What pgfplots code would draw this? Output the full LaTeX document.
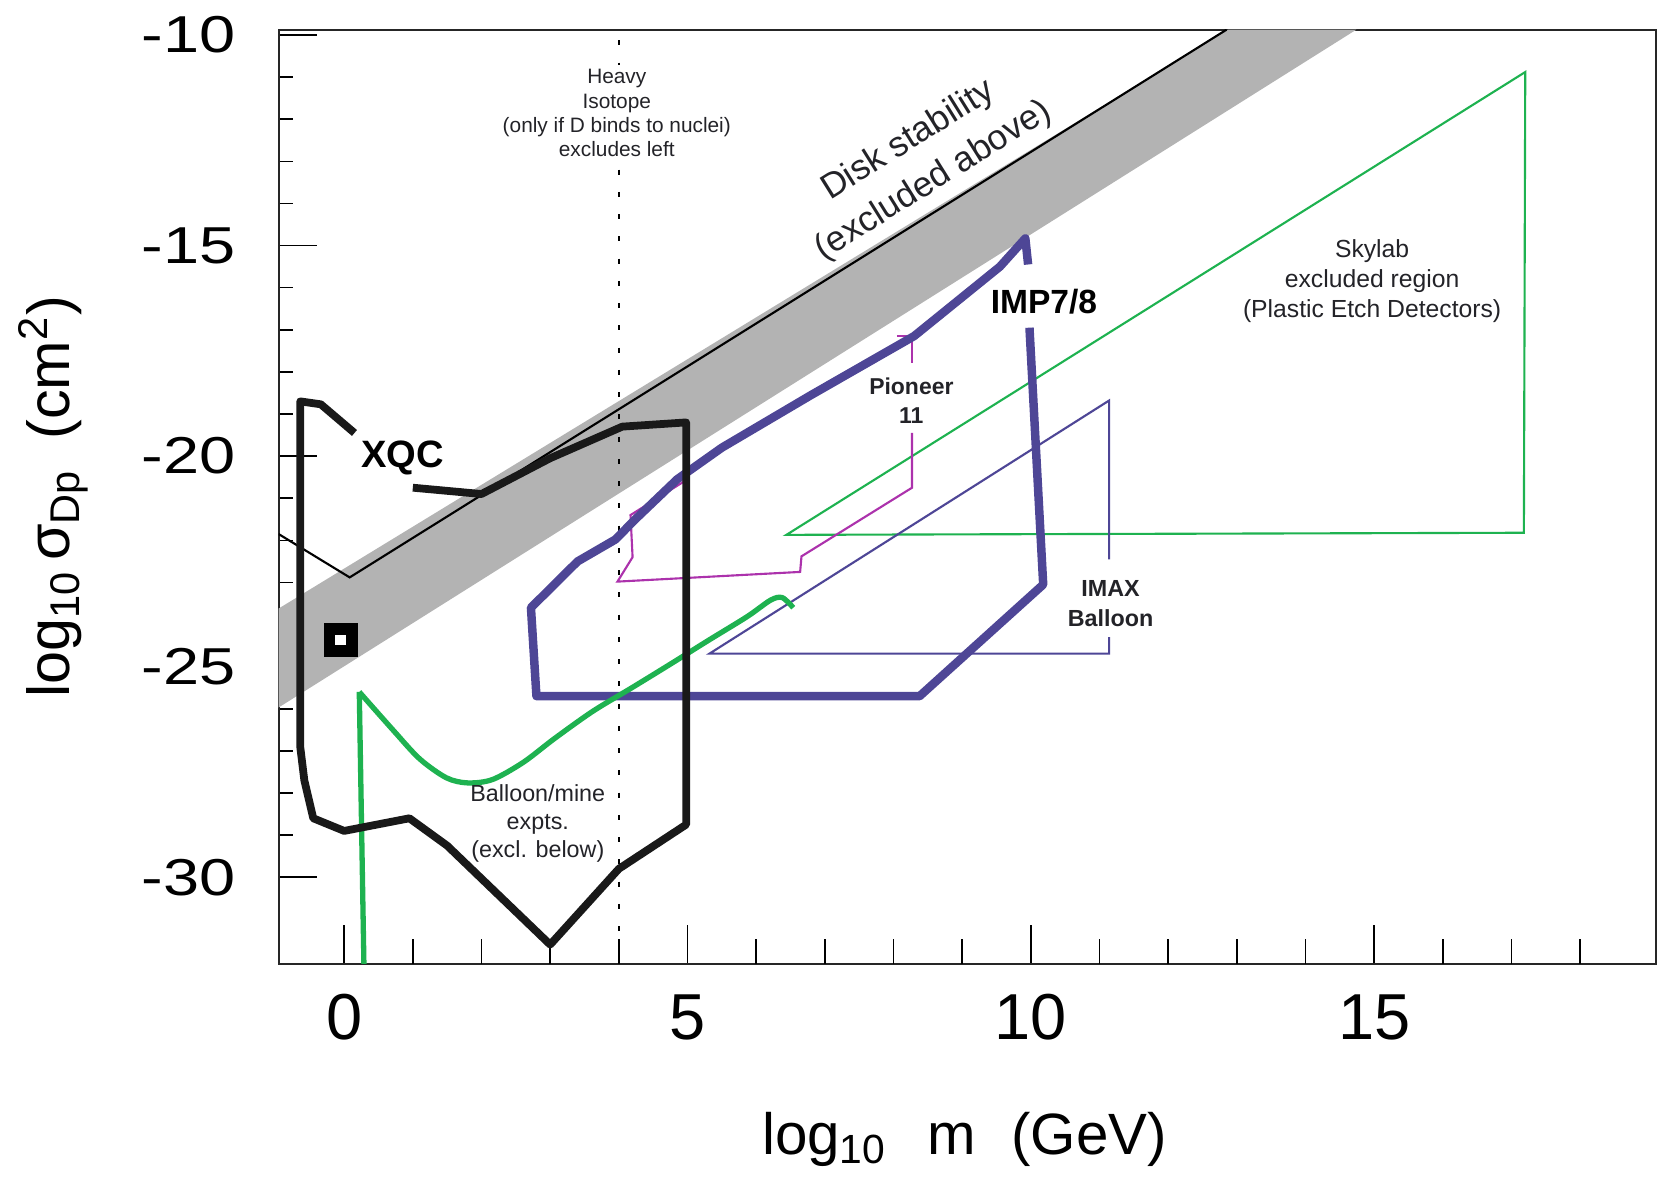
\documentclass[border=0pt]{standalone}
\usepackage{pgfplots}
\pgfplotsset{compat=1.18}
\usepackage{fontspec}
\setmainfont{Liberation Sans}
\usepackage{graphicx}

\definecolor{grn}{RGB}{30,178,80}
\definecolor{ind}{RGB}{78,70,150}
\definecolor{mag}{RGB}{172,50,172}
\definecolor{band}{RGB}{179,179,179}
\definecolor{txt}{RGB}{35,35,40}

\begin{document}
\begin{tikzpicture}
\begin{axis}[
  scale only axis, width=390pt, height=264.6pt,
  xmin=-0.955, xmax=19.1, ymin=-32.06, ymax=-9.874,
  axis line style={line width=0.6pt, black!85},
  xtick={0,5,10,15}, ytick={-30,-25,-20,-15,-10},
  extra x ticks={1,2,3,4,6,7,8,9,11,12,13,14,16,17,18},
  extra x tick labels={},
  extra x tick style={major tick length=7pt},
  minor y tick num=4,
  major tick length=11pt, minor tick length=4pt,
  tick align=inside, xtick pos=bottom, ytick pos=left,
  tick style={line width=0.45pt, black},
  /pgf/number format/assume math mode=true,
  xticklabel style={font=\fontsize{18.4}{20}\selectfont, anchor=north, inner sep=0pt, yshift=-8.4pt},
  yticklabel style={font=\fontsize{14.7}{16}\selectfont, anchor=east, inner sep=0pt, xshift=-12pt},
  yticklabel={\scalebox{1.25}[1]{\pgfmathprintnumber{\tick}}},
  xlabel={log\textsubscript{10}\hspace{0.7em}m\hspace{0.6em}(GeV)},
  ylabel={log\textsubscript{10}\,σ\textsubscript{Dp}\hspace{0.5em}(cm\textsuperscript{2})},
  xlabel style={at={(axis description cs:0.498,-0.204)}, anchor=base, font=\fontsize{16.5}{18}\selectfont},
  ylabel style={at={(axis description cs:-0.1515,0.5)}, anchor=base, font=\fontsize{16.8}{18}\selectfont},
]
% gray band
\addplot[fill=band, draw=none] coordinates {(-0.955,-25.97) (-0.955,-23.62) (12.87,-9.874) (14.74,-9.874)} -- cycle;
% disk stability line
\addplot[black, line width=0.6pt] coordinates {(-0.955,-21.85) (0.08,-22.88) (12.85,-9.874)};
% dotted heavy isotope line
\addplot[black, line width=0.65pt, dash pattern=on 1.4pt off 4.9pt] coordinates {(4,-10.13) (4,-10.72)};
\addplot[black, line width=0.65pt, dash pattern=on 1.4pt off 4.9pt] coordinates {(4,-13.2) (4,-32.06)};
% Skylab
\addplot[grn, line width=0.6pt] coordinates {(6.44,-21.87) (17.2,-10.88) (17.18,-21.82)} -- cycle;
% IMAX
\addplot[ind, line width=0.6pt] coordinates {(11.14,-22.45) (11.14,-18.68) (5.32,-24.69) (11.14,-24.69) (11.14,-24.3)};
% Pioneer 11
\addplot[mag, line width=0.6pt] coordinates {(8.05,-17.15) (8.27,-17.15) (8.27,-17.8)};
\addplot[mag, line width=0.6pt] coordinates {(8.27,-19.45) (8.27,-20.75) (6.66,-22.38) (6.64,-22.75) (3.98,-22.98) (4.2,-22.4) (4.17,-21.4) (5.0,-20.55)};
% IMP7/8
\addplot[ind, line width=2.4pt, line join=round] coordinates {(9.96,-15.45) (9.92,-14.83) (9.55,-15.5) (8.3,-17.15) (6.8,-18.55) (5.5,-19.8) (4.85,-20.55) (4.24,-21.5) (3.95,-21.98) (3.4,-22.5) (2.72,-23.6) (2.8,-25.7) (8.38,-25.7) (10.18,-23.05) (9.98,-16.95)};
% balloon/mine
\addplot[grn, line width=1.5pt] coordinates {(0.29,-32.3) (0.22,-25.6)};
\addplot[grn, line width=1.5pt, smooth] coordinates {(0.22,-25.6) (0.72,-26.52) (1.10,-27.19) (1.49,-27.64) (1.80,-27.76) (2.16,-27.68) (2.61,-27.27) (3.06,-26.71) (3.62,-26.06) (4.19,-25.5) (4.75,-24.94) (5.31,-24.37) (5.87,-23.81) (6.21,-23.42) (6.38,-23.36) (6.54,-23.6)};
% XQC
\addplot[black!90, line width=2.2pt, line join=round] coordinates {(0.15,-19.45) (-0.34,-18.77) (-0.64,-18.7) (-0.64,-26.9) (-0.58,-27.7) (-0.45,-28.6) (0.0,-28.9) (0.95,-28.6) (1.5,-29.25) (3.0,-31.6) (4.0,-29.8) (4.98,-28.75) (4.98,-19.2) (4.05,-19.3) (3.0,-20.05) (2.0,-20.9) (1.0,-20.75)};
% square marker
\addplot[only marks, mark=square*, mark size=4.65pt, mark options={fill=black, draw=none}] coordinates {(-0.05,-24.37)};
\addplot[only marks, mark=square*, mark size=1.7pt, mark options={fill=white, draw=none}] coordinates {(-0.05,-24.37)};
% labels
\node[align=center, font=\fontsize{5.9}{6.9}\selectfont, text=txt] at (axis cs:3.97,-11.86) {Heavy\\Isotope\\(only if D binds to nuclei)\\excludes left};
\node[rotate=32, align=center, font=\fontsize{10}{13.4}\selectfont, text=txt] at (axis cs:8.4,-12.99) {Disk stability\\(excluded above)};
\node[font=\bfseries\fontsize{10.8}{12}\selectfont] at (axis cs:0.85,-20.04) {XQC};
\node[font=\bfseries\fontsize{9.5}{11}\selectfont] at (axis cs:10.19,-16.34) {IMP7/8};
\node[align=center, font=\bfseries\fontsize{6.5}{8.4}\selectfont, text=txt] at (axis cs:8.26,-18.68) {Pioneer\\11};
\node[align=center, font=\bfseries\fontsize{6.6}{8.7}\selectfont, text=txt] at (axis cs:11.16,-23.5) {IMAX\\Balloon};
\node[align=center, font=\fontsize{7}{8.5}\selectfont, text=txt] at (axis cs:14.97,-15.84) {Skylab\\excluded region\\(Plastic Etch Detectors)};
\node[align=center, font=\fontsize{6.6}{8}\selectfont, text=txt] at (axis cs:2.82,-28.72) {Balloon/mine\\expts.\\(excl. below)};
\end{axis}
\pgfresetboundingbox
\path[use as bounding box] ([xshift=-78.9pt,yshift=-62.7pt]current axis.south west) rectangle ([xshift=1.5pt,yshift=8.4pt]current axis.north east);
\end{tikzpicture}
\end{document}
